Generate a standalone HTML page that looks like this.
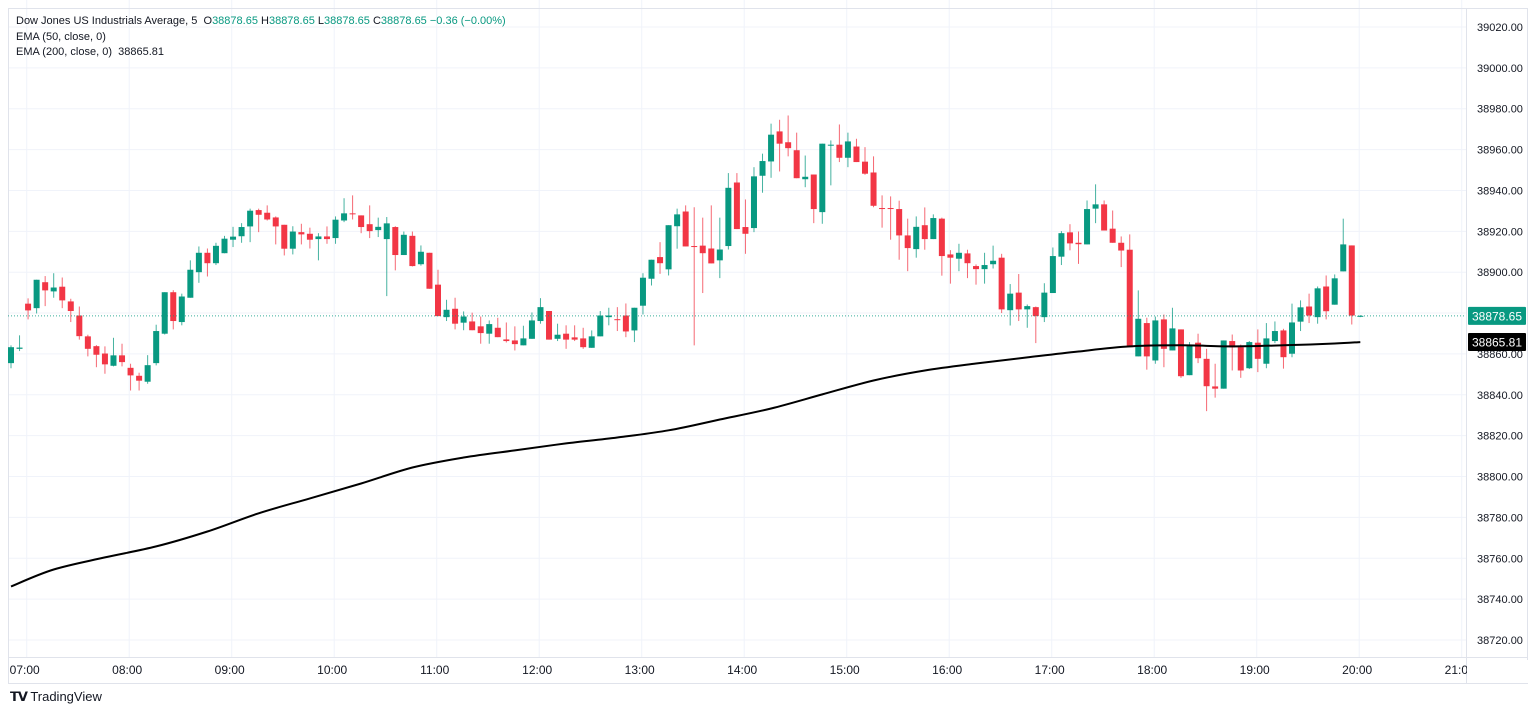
<!DOCTYPE html>
<html><head><meta charset="utf-8">
<style>
body{margin:0;background:#fff;font-family:"Liberation Sans",sans-serif;}
#wrap{position:relative;width:1536px;height:714px;overflow:hidden;}
svg text{font-family:"Liberation Sans",sans-serif;}
</style></head>
<body>
<div id="wrap">
<svg id="chart" width="1536" height="714"></svg>
</div>
<script>
const opens=[38855.5,38862.5,38884.6,38882.4,38895.1,38890.6,38892.9,38885.7,38878.8,38868.6,38863.8,38860.2,38854.2,38859.3,38853.2,38849.3,38846.4,38855.5,38869.9,38890.2,38875.6,38887.5,38900.0,38909.5,38904.4,38909.3,38915.9,38917.6,38922.4,38930.4,38929.1,38926.8,38923.2,38911.5,38919.6,38918.8,38916.2,38917.5,38916.7,38925.3,38928.8,38927.8,38923.5,38920.6,38916.2,38922.1,38908.4,38917.8,38903.9,38909.5,38893.9,38878.0,38882.1,38875.3,38875.9,38873.5,38869.9,38872.8,38867.1,38866.6,38864.2,38867.4,38876.1,38881.0,38867.4,38869.9,38868.1,38867.6,38863.0,38868.6,38878.0,38877.0,38878.8,38871.5,38883.6,38896.8,38907.4,38901.4,38922.5,38929.7,38912.8,38913.0,38911.6,38905.8,38912.8,38943.9,38922.1,38921.6,38947.2,38954.2,38968.9,38963.6,38959.7,38945.5,38947.8,38929.4,38962.3,38962.4,38956.0,38961.5,38954.1,38948.8,38931.4,38931.4,38930.9,38918.0,38911.3,38923.0,38916.2,38926.2,38908.7,38906.6,38909.2,38903.0,38901.5,38903.9,38907.1,38881.4,38890.0,38881.8,38882.9,38878.0,38889.8,38907.6,38919.5,38914.4,38913.6,38931.1,38933.2,38921.3,38914.4,38911.0,38858.8,38875.1,38856.8,38876.9,38861.7,38872.0,38849.6,38865.5,38857.6,38844.1,38843.0,38866.3,38863.3,38853.0,38865.5,38855.2,38866.3,38871.5,38860.1,38875.8,38883.2,38878.0,38893.0,38884.1,38900.4,38913.1,38878.65];
const highs=[38864.2,38869.1,38887.2,38896.3,38898.1,38899.5,38897.4,38887.0,38883.2,38869.4,38864.3,38863.7,38867.9,38865.0,38855.2,38850.8,38859.4,38874.3,38890.2,38891.2,38889.5,38905.8,38912.6,38911.6,38914.4,38917.8,38922.2,38924.0,38931.1,38931.1,38932.7,38927.3,38923.2,38922.5,38923.7,38921.8,38919.1,38922.4,38927.3,38936.2,38937.6,38927.8,38932.7,38926.7,38927.0,38922.5,38919.9,38919.9,38913.1,38909.5,38901.2,38886.5,38887.5,38880.8,38880.2,38878.3,38876.4,38877.7,38875.4,38873.5,38873.8,38880.3,38887.3,38881.0,38874.8,38874.0,38874.0,38872.8,38871.5,38881.0,38882.6,38882.9,38884.7,38882.6,38899.5,38906.1,38914.7,38923.0,38931.1,38932.7,38931.8,38926.7,38932.7,38926.7,38948.5,38948.5,38935.6,38951.4,38958.0,38972.7,38974.6,38976.7,38968.3,38957.1,38947.8,38962.9,38964.5,38972.3,38968.3,38965.3,38961.2,38956.7,38937.6,38937.1,38935.0,38926.2,38927.3,38931.7,38928.3,38926.7,38910.8,38913.9,38911.0,38903.8,38909.5,38913.0,38909.0,38894.2,38899.1,38884.2,38883.2,38894.6,38912.1,38920.1,38923.5,38919.9,38935.1,38943.0,38935.1,38930.2,38917.5,38918.5,38891.1,38877.7,38878.3,38879.3,38882.6,38872.0,38865.8,38869.9,38862.5,38855.2,38866.6,38869.5,38864.6,38866.3,38872.0,38875.1,38875.9,38872.3,38884.6,38886.2,38889.5,38893.0,38898.4,38898.9,38926.2,38913.1,38879.0];
const lows=[38853.0,38861.4,38876.9,38879.8,38883.4,38887.5,38882.4,38875.6,38867.0,38858.8,38853.5,38850.3,38853.9,38853.9,38842.1,38842.1,38845.4,38854.4,38869.5,38872.0,38874.0,38887.5,38894.8,38897.9,38903.5,38909.3,38912.3,38914.4,38914.7,38919.6,38925.3,38913.6,38908.2,38908.7,38913.6,38911.6,38905.8,38913.9,38913.9,38924.5,38925.8,38919.1,38916.7,38917.2,38888.3,38900.9,38908.4,38902.8,38903.2,38891.9,38878.5,38876.1,38872.0,38871.6,38871.6,38865.0,38865.0,38868.2,38865.6,38861.7,38864.2,38867.4,38874.8,38867.0,38866.3,38862.5,38866.3,38862.5,38863.0,38868.6,38874.0,38871.2,38868.2,38865.8,38879.3,38893.5,38899.2,38898.4,38911.5,38912.6,38864.2,38889.8,38904.3,38897.1,38911.1,38921.1,38909.0,38919.6,38938.9,38946.2,38949.3,38956.7,38946.0,38941.6,38924.0,38923.7,38942.5,38953.9,38951.4,38953.9,38947.7,38931.8,38921.8,38915.9,38906.1,38900.5,38907.1,38911.0,38916.2,38898.3,38894.4,38900.5,38897.1,38893.9,38894.4,38901.8,38880.0,38873.9,38876.1,38872.8,38865.3,38875.6,38889.8,38903.5,38910.7,38904.1,38913.6,38924.0,38920.4,38914.4,38902.5,38863.3,38858.8,38852.3,38855.2,38853.5,38861.7,38848.3,38849.6,38855.5,38832.0,38838.6,38843.0,38851.9,38848.3,38852.6,38851.1,38853.0,38865.3,38852.8,38858.4,38871.2,38875.1,38874.8,38876.9,38884.1,38900.4,38874.4,38878.0];
const closes=[38863.3,38863.1,38881.3,38896.3,38891.1,38892.5,38886.2,38881.0,38868.7,38862.5,38859.6,38854.9,38859.3,38856.0,38849.5,38846.9,38854.5,38871.2,38890.2,38876.1,38888.1,38901.2,38909.5,38904.4,38912.9,38916.4,38917.4,38922.1,38930.1,38928.1,38925.8,38922.4,38911.5,38919.9,38918.5,38915.9,38917.5,38916.2,38925.7,38928.8,38928.4,38922.1,38920.1,38922.2,38923.9,38908.4,38918.3,38903.0,38910.0,38891.9,38878.5,38881.6,38874.8,38878.3,38871.6,38870.2,38874.6,38868.2,38866.3,38864.8,38867.6,38876.4,38882.9,38867.0,38869.4,38867.0,38867.0,38863.3,38868.6,38878.8,38878.8,38876.7,38871.0,38882.6,38897.3,38906.1,38904.4,38923.0,38928.3,38912.6,38912.5,38909.3,38904.3,38911.1,38941.3,38921.1,38918.8,38946.9,38954.4,38967.3,38962.9,38960.7,38946.0,38946.7,38930.9,38962.9,38962.4,38956.0,38964.0,38953.9,38948.2,38932.5,38931.2,38931.2,38918.0,38911.8,38922.2,38916.2,38926.5,38907.9,38907.1,38909.5,38904.4,38901.5,38903.5,38905.6,38881.8,38889.5,38881.8,38883.4,38878.5,38890.0,38907.9,38919.1,38914.1,38913.7,38930.9,38933.2,38920.4,38914.4,38910.6,38863.3,38877.2,38858.8,38876.4,38862.5,38872.5,38849.1,38864.6,38857.9,38844.2,38843.0,38866.6,38863.2,38851.9,38865.8,38857.6,38867.6,38871.2,38858.4,38875.4,38882.8,38878.8,38892.1,38880.9,38897.0,38913.6,38878.8,38878.65];
const emaIdx=[0,5,11,17,23,29,35,41,47,53,59,65,71,77,83,89,95,101,107,113,119,125,131,137,143,149,155,158];
const emaVals=[38746.2,38754.5,38760.4,38765.8,38773.1,38782.0,38789.3,38796.6,38804.4,38809.3,38812.8,38816.2,38819.1,38822.6,38827.9,38833.3,38840.2,38847.0,38851.9,38855.3,38858.3,38861.2,38863.7,38864.2,38863.7,38864.2,38865.1,38865.8];
const priceTicks=[38720,38740,38760,38780,38800,38820,38840,38860,38880,38900,38920,38940,38960,38980,39000,39020];
const timeTicks=["07:00","08:00","09:00","10:00","11:00","12:00","13:00","14:00","15:00","16:00","17:00","18:00","19:00","20:00","21:00"];
const lastClose=38878.65, emaLast=38865.81;

const NS="http://www.w3.org/2000/svg";
const svg=document.getElementById('chart');
const paneL=8,paneR=1466,paneB=657;
const y=p=>27+(39020-p)*2.0433;
const xi=i=>11+i*8.54;
const xh=h=>26.7+h*102.5;
function mk(tag,at,parent){const e=document.createElementNS(NS,tag);for(const k in at)e.setAttribute(k,at[k]);(parent||svg).appendChild(e);return e;}
const GREEN='#089981',RED='#f23645';

const grid=mk('g',{});


priceTicks.forEach(p=>{const l=mk('line',{x1:paneL,x2:paneR,y1:y(p),y2:y(p),stroke:'#f0f3fa','stroke-width':1},grid);

});
timeTicks.forEach((t,h)=>{const l=mk('line',{x1:xh(h),x2:xh(h),y1:0,y2:paneB,stroke:'#f0f3fa','stroke-width':1},grid);

});

const b=mk('g',{stroke:'#e0e3eb','stroke-width':1,fill:'none'});


mk('rect',{x:paneL+0.5,y:8.5,width:1536-paneL-9,height:675},b);
mk('line',{x1:paneR+0.5,x2:paneR+0.5,y1:8,y2:684},b);
mk('line',{x1:paneL,x2:1528,y1:paneB+0.5,y2:paneB+0.5},b);

const cg=mk('g',{});


opens.forEach((o,i)=>{
  const c=closes[i],col=c>=o?GREEN:RED,x=xi(i);
  const g=mk('g',{},cg);
  
  
  mk('line',{x1:x,x2:x,y1:y(highs[i]),y2:y(lows[i]),stroke:col,'stroke-width':1,opacity:0.75},g);
  const top=y(Math.max(o,c)),bot=y(Math.min(o,c));
  mk('rect',{x:x-3,y:top,width:6,height:Math.max(1,bot-top),fill:col},g);
});

// smooth EMA line (Catmull-Rom)
const pts=emaIdx.map((k,j)=>[xi(k),y(emaVals[j])]);
let d='M'+pts[0][0].toFixed(1)+' '+pts[0][1].toFixed(1);
for(let i=0;i<pts.length-1;i++){
  const p0=pts[Math.max(0,i-1)],p1=pts[i],p2=pts[i+1],p3=pts[Math.min(pts.length-1,i+2)];
  const c1=[p1[0]+(p2[0]-p0[0])/6,p1[1]+(p2[1]-p0[1])/6],c2=[p2[0]-(p3[0]-p1[0])/6,p2[1]-(p3[1]-p1[1])/6];
  d+='C'+c1.map(v=>v.toFixed(1)).join(' ')+' '+c2.map(v=>v.toFixed(1)).join(' ')+' '+p2.map(v=>v.toFixed(1)).join(' ');
}
const ema=mk('path',{d:d,fill:'none',stroke:'#000','stroke-width':2,'stroke-linejoin':'round'});



const lp=mk('line',{x1:paneL,x2:paneR,y1:y(lastClose),y2:y(lastClose),stroke:GREEN,'stroke-width':1,'stroke-dasharray':'1 2',opacity:0.8});



const ax=mk('g',{'font-size':'11',fill:'#131722'});


priceTicks.forEach(p=>{const t=mk('text',{x:1500,y:y(p)+4,'text-anchor':'middle'},ax);t.textContent=p.toFixed(2);

});
function tag(val,bg,name){const g=mk('g',{});


mk('rect',{x:1468,y:y(val)-9,width:58,height:18,fill:bg,rx:1},g);
const t=mk('text',{x:1497,y:y(val)+4.5,'text-anchor':'middle',fill:'#fff','font-size':'12'},g);t.textContent=val.toFixed(2);}
tag(lastClose,GREEN,'last-price-label');
tag(emaLast,'#000','ema-value-label');

const tx=mk('g',{'font-size':'12',fill:'#131722'});


timeTicks.forEach((t,h)=>{const e=mk('text',{x:xh(h)-2,y:674,'text-anchor':'middle'},tx);e.textContent=t;

});
mk('rect',{x:paneR+1,y:660,width:70,height:23,fill:'#fff'});
</script>
<div style="position:absolute;left:16px;top:14px;font-size:11px;color:#131722;line-height:15.5px;">
<div>Dow Jones US Industrials Average, 5&nbsp; O<span style="color:#089981">38878.65</span> H<span style="color:#089981">38878.65</span> L<span style="color:#089981">38878.65</span> C<span style="color:#089981">38878.65</span> <span style="color:#089981">−0.36 (−0.00%)</span></div>
<div>EMA (50, close, 0)</div>
<div>EMA (200, close, 0)&nbsp; 38865.81</div>
</div>
<div style="position:absolute;left:10px;top:689px;font-size:13px;color:#131722;">
<span style="font-weight:bold;letter-spacing:-1px;">𝗧𝗩</span> TradingView</div>
</body></html>
